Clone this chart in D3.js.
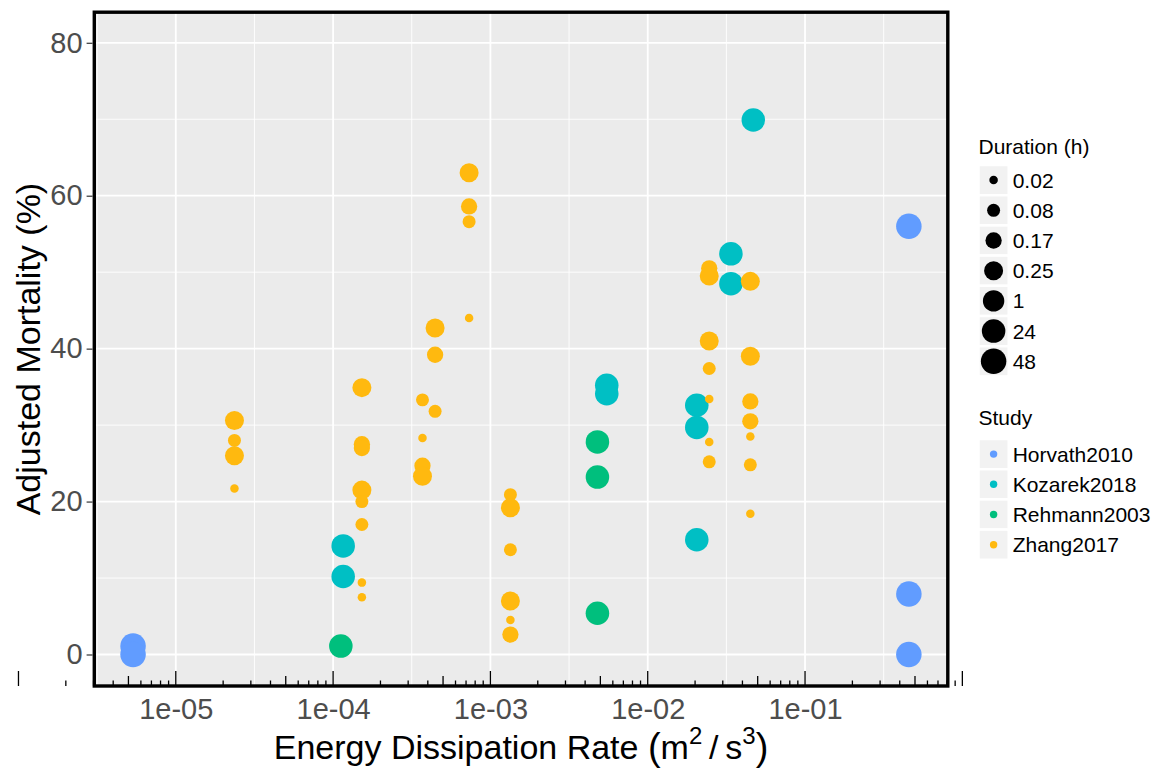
<!DOCTYPE html>
<html>
<head>
<meta charset="utf-8">
<script src="https://cdn.jsdelivr.net/npm/d3@7"></script>
<style>
  html, body { margin: 0; padding: 0; background: #ffffff; }
  text { font-family: "Liberation Sans", Arial, Helvetica, sans-serif; }
</style>
</head>
<body>
<svg id="chart" width="1156" height="770"></svg>
<script>
// ---------------- data ----------------
const studies = ["Horvath2010", "Kozarek2018", "Rehmann2003", "Zhang2017"];
const studyColors = ["#619CFF", "#00BFC4", "#00BF7D", "#FFB90F"];
const durationLevels = ["0.02", "0.08", "0.17", "0.25", "1", "24", "48"];
const xTickLabels = ["1e-05", "1e-04", "1e-03", "1e-02", "1e-01"];
const yTickValues = [0, 20, 40, 60, 80];

const horvathRate      = [5.35e-6, 5.35e-6, 0.457, 0.457, 0.457];
const horvathMortality = [1.1, 0.0, 56.0, 7.9, 0.0];
const horvathDuration  = ["48", "48", "48", "48", "48"];

const kozarekRate      = [1.159e-4, 1.159e-4, 5.49e-3, 5.49e-3, 0.0469, 0.0338, 0.0338, 0.0205, 0.0205, 0.0205];
const kozarekMortality = [14.2, 10.2, 35.2, 34.1, 69.9, 52.4, 48.5, 32.6, 29.7, 15.0];
const kozarekDuration  = ["24", "24", "24", "24", "24", "24", "24", "24", "24", "24"];

const rehmannRate      = [1.12e-4, 4.79e-3, 4.79e-3, 4.79e-3];
const rehmannMortality = [1.1, 27.8, 23.2, 5.4];
const rehmannDuration  = ["24", "24", "24", "24"];

const zhangRate = [
  2.36e-5, 2.36e-5, 2.36e-5, 2.36e-5,
  1.524e-4, 1.524e-4, 1.524e-4, 1.524e-4, 1.524e-4, 1.524e-4, 1.524e-4, 1.524e-4,
  3.70e-4, 3.70e-4, 3.70e-4, 3.70e-4,
  4.45e-4, 4.45e-4, 4.45e-4,
  7.32e-4, 7.32e-4, 7.32e-4, 7.32e-4,
  1.34e-3, 1.34e-3, 1.34e-3, 1.34e-3, 1.34e-3, 1.34e-3,
  0.0246, 0.0246, 0.0246, 0.0246, 0.0246, 0.0246, 0.0246,
  0.0449, 0.0449, 0.0449, 0.0449, 0.0449, 0.0449, 0.0449
];
const zhangMortality = [
  30.6, 28.0, 26.0, 21.7,
  34.9, 27.5, 27.0, 21.5, 20.0, 17.0, 9.4, 7.5,
  33.3, 28.3, 24.7, 23.3,
  42.7, 39.2, 31.8,
  63.0, 58.6, 56.6, 44.0,
  20.9, 19.2, 13.7, 7.0, 4.5, 2.6,
  50.5, 49.5, 41.0, 37.4, 33.4, 27.8, 25.2,
  48.8, 39.0, 33.1, 30.5, 28.5, 24.8, 18.4
];
const zhangDuration = [
  "0.25", "0.08", "0.25", "0.02",
  "0.25", "0.17", "0.17", "0.25", "0.08", "0.08", "0.02", "0.02",
  "0.08", "0.02", "0.17", "0.25",
  "0.25", "0.17", "0.08",
  "0.25", "0.17", "0.08", "0.02",
  "0.08", "0.25", "0.08", "0.25", "0.02", "0.17",
  "0.17", "0.25", "0.25", "0.08", "0.02", "0.02", "0.08",
  "0.25", "0.25", "0.17", "0.17", "0.02", "0.08", "0.02"
];

const seriesRate = [horvathRate, kozarekRate, rehmannRate, zhangRate];
const seriesMortality = [horvathMortality, kozarekMortality, rehmannMortality, zhangMortality];
const seriesDuration = [horvathDuration, kozarekDuration, rehmannDuration, zhangDuration];

// ---------------- layout ----------------
const svg = d3.select("#chart");
const P = { left: 94.3, right: 947.8, top: 12.2, bottom: 686 };

const x = d3.scaleLog()
  .domain([Math.pow(10, -5.518), Math.pow(10, -0.0925)])
  .range([P.left, P.right]);
const y = d3.scaleLinear()
  .domain([-4.12, 84.0])
  .range([P.bottom, P.top]);

// ggplot-like ordinal size scale (area evenly spaced)
const rScale = d3.scaleOrdinal()
  .domain(durationLevels)
  .range(durationLevels.map((d, i) => Math.sqrt(4 + i * 32 / 6) * 4.25 / 2));
const color = d3.scaleOrdinal().domain(studies).range(studyColors);

// panel background
svg.append("rect")
  .attr("x", P.left).attr("y", P.top)
  .attr("width", P.right - P.left).attr("height", P.bottom - P.top)
  .attr("fill", "#EBEBEB");

const gridG = svg.append("g");
// minor vertical (half decades)
const minorX = [-5.5, -4.5, -3.5, -2.5, -1.5, -0.5].map(e => Math.pow(10, e));
gridG.selectAll(".mx").data(minorX).enter().append("line")
  .attr("x1", d => x(d)).attr("x2", d => x(d))
  .attr("y1", P.top).attr("y2", P.bottom)
  .attr("stroke", "#FFFFFF").attr("stroke-width", 0.9);
const minorY = [10, 30, 50, 70];
gridG.selectAll(".my").data(minorY).enter().append("line")
  .attr("x1", P.left).attr("x2", P.right)
  .attr("y1", d => y(d)).attr("y2", d => y(d))
  .attr("stroke", "#FFFFFF").attr("stroke-width", 0.9);
// major
const majorX = xTickLabels.map(s => +s);
gridG.selectAll(".Mx").data(majorX).enter().append("line")
  .attr("x1", d => x(d)).attr("x2", d => x(d))
  .attr("y1", P.top).attr("y2", P.bottom)
  .attr("stroke", "#FFFFFF").attr("stroke-width", 1.8);
gridG.selectAll(".My").data(yTickValues).enter().append("line")
  .attr("x1", P.left).attr("x2", P.right)
  .attr("y1", d => y(d)).attr("y2", d => y(d))
  .attr("stroke", "#FFFFFF").attr("stroke-width", 1.8);

// points
const ptsG = svg.append("g");
studies.forEach((s, si) => {
  const rows = seriesRate[si].map((r, i) => ({ r, m: seriesMortality[si][i], d: seriesDuration[si][i] }));
  ptsG.append("g").selectAll("circle").data(rows).enter().append("circle")
    .attr("cx", d => x(d.r))
    .attr("cy", d => y(d.m))
    .attr("r", d => rScale(d.d))
    .attr("fill", color(s));
});

// log ticks (annotation_logticks, unclipped)
const logTicks = [];
for (let e = -6; e <= -1; e++) {
  for (let k = 1; k <= 9; k++) logTicks.push({ v: k * Math.pow(10, e), k });
}
logTicks.push({ v: 1, k: 1 });
svg.append("g").selectAll("line").data(logTicks).enter().append("line")
  .attr("x1", d => x(d.v)).attr("x2", d => x(d.v))
  .attr("y1", P.bottom)
  .attr("y2", d => P.bottom - (d.k === 1 ? 15 : d.k === 5 ? 10 : 5.5))
  .attr("stroke", "#000000").attr("stroke-width", 1.3);

// panel border
svg.append("rect")
  .attr("x", P.left).attr("y", P.top)
  .attr("width", P.right - P.left).attr("height", P.bottom - P.top)
  .attr("fill", "none").attr("stroke", "#000000").attr("stroke-width", 3.4);

// y axis ticks + labels
const yAxis = d3.axisLeft(y).tickValues(yTickValues).tickSize(6).tickPadding(4).tickFormat(d3.format("d"));
const yG = svg.append("g").attr("transform", `translate(${P.left - 1.7},0)`).call(yAxis);
yG.select(".domain").remove();
yG.selectAll(".tick line").attr("stroke", "#333333").attr("stroke-width", 1.2);
yG.selectAll(".tick text").attr("fill", "#4D4D4D").style("font-size", "29px")
  .attr("font-family", "Liberation Sans, Arial, sans-serif");

// x tick labels
const xAxis = d3.axisBottom(x).tickValues(majorX).tickSize(0).tickPadding(12)
  .tickFormat((d, i) => xTickLabels[i]);
const xG = svg.append("g").attr("transform", `translate(0,${P.bottom})`).call(xAxis);
xG.select(".domain").remove();
xG.selectAll(".tick text").attr("fill", "#4D4D4D").style("font-size", "29px")
  .attr("font-family", "Liberation Sans, Arial, sans-serif");

// axis titles
svg.append("text")
  .attr("transform", `translate(40,${(P.top + P.bottom) / 2}) rotate(-90)`)
  .attr("text-anchor", "middle")
  .style("font-size", "34px").attr("fill", "#000")
  .text("Adjusted Mortality (%)");

const xt = svg.append("text")
  .attr("x", (P.left + P.right) / 2).attr("y", 759)
  .attr("text-anchor", "middle")
  .style("font-size", "34px").attr("fill", "#000");
xt.append("tspan").text("Energy Dissipation Rate ");
xt.append("tspan").style("font-size", "38px").attr("dy", 1).text("(");
xt.append("tspan").attr("dy", -1).text("m");
xt.append("tspan").style("font-size", "24px").attr("dy", -15).text("2");
xt.append("tspan").attr("dy", 15).text("\u2009/\u2009");
xt.append("tspan").text("s");
xt.append("tspan").style("font-size", "24px").attr("dy", -15).text("3");
xt.append("tspan").style("font-size", "38px").attr("dy", 16).text(")");

// ---------------- legends ----------------
const legX = 978.5, keySize = 30.2;
const leg1 = svg.append("g");
leg1.append("text").attr("x", legX).attr("y", 154).style("font-size", "21px").attr("fill", "#000").text("Duration (h)");
const dRows = leg1.selectAll("g.k").data(durationLevels).enter().append("g")
  .attr("transform", (d, i) => `translate(${legX},${165 + i * keySize})`);
dRows.append("rect").attr("width", keySize).attr("height", keySize)
  .attr("fill", "#F2F2F2").attr("stroke", "#FFFFFF").attr("stroke-width", 2.5);
dRows.append("circle").attr("cx", keySize / 2).attr("cy", keySize / 2)
  .attr("r", d => rScale(d)).attr("fill", "#000");
dRows.append("text").attr("x", keySize + 4).attr("y", keySize / 2 + 7.6)
  .style("font-size", "21px").attr("fill", "#000").text(d => d);

const leg2 = svg.append("g");
leg2.append("text").attr("x", legX).attr("y", 425).style("font-size", "21px").attr("fill", "#000").text("Study");
const sRows = leg2.selectAll("g.k").data(studies).enter().append("g")
  .attr("transform", (d, i) => `translate(${legX},${439 + i * keySize})`);
sRows.append("rect").attr("width", keySize).attr("height", keySize)
  .attr("fill", "#F2F2F2").attr("stroke", "#FFFFFF").attr("stroke-width", 2.5);
sRows.append("circle").attr("cx", keySize / 2).attr("cy", keySize / 2)
  .attr("r", 3.7).attr("fill", d => color(d));
sRows.append("text").attr("x", keySize + 4).attr("y", keySize / 2 + 7.6)
  .style("font-size", "21px").attr("fill", "#000").text(d => d);
</script>
</body>
</html>
